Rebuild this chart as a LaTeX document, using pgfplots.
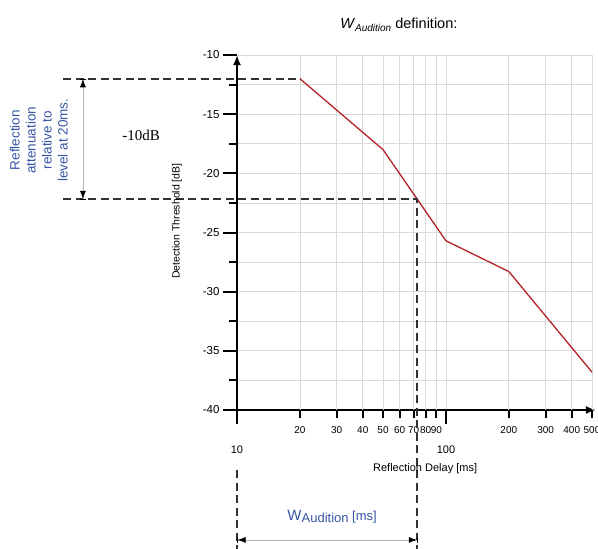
\documentclass[border=0pt]{standalone}
\usepackage{fontspec}
\setmainfont{Liberation Sans}
\newfontfamily\seriffont{Liberation Serif}
\usepackage{pgfplots}
\pgfplotsset{compat=1.18}
\usetikzlibrary{arrows.meta}
\definecolor{curvered}{RGB}{178,34,40}
\definecolor{annblue}{RGB}{55,85,165}
\definecolor{gridgray}{RGB}{218,218,218}
\definecolor{dashgray}{RGB}{50,50,50}

\begin{document}
\begin{tikzpicture}
% picture is 598 x 549 pt, axis box corner at (0,0)
\path[use as bounding box] (-237pt,-139pt) rectangle (361pt,410pt);
\begin{axis}[
  at={(0,0)}, anchor=south west,
  scale only axis, width=355pt, height=355pt,
  xmode=log, xmin=10, xmax=500, ymin=-40, ymax=-10,
  enlargelimits=false, clip=false,
  axis lines=left,
  axis line style={line width=2pt, black},
  x axis line style={-{Latex[length=10pt,width=8pt]}, shorten >=-4pt},
  y axis line style={-{Latex[length=10pt,width=8pt]}},
  tick align=outside,
  major tick length=14pt, minor tick length=8pt,
  every tick/.style={black, line width=2pt},
  xtick={10,100}, xticklabels={10,100},
  minor xtick={},
  xticklabel style={yshift=-18pt, font=\fontsize{11}{11}\selectfont},
  extra x ticks={20,30,40,50,60,70,80,90,200,300,400,500},
  extra x tick labels={20,30,40,50,60,70,80,90,200,300,400,500},
  extra x tick style={major tick length=8pt, grid=major,
    xticklabel style={yshift=13pt, font=\fontsize{10}{10}\selectfont}},
  ytick={-40,-35,-30,-25,-20,-15,-10},
  yticklabels={-40,-35,-30,-25,-20,-15,-10},
  minor ytick={-37.5,-32.5,-27.5,-22.5,-17.5,-12.5},
  yticklabel style={font=\fontsize{11.5}{11.5}\selectfont},
  grid=both,
  major grid style={gridgray, line width=0.7pt},
  minor grid style={gridgray, line width=0.7pt},
  xlabel={Reflection Delay [ms]},
  xlabel style={at={(axis description cs:0.53,-0.166)}, anchor=center, font=\fontsize{11}{11}\selectfont},
  ylabel={Detection Threshold [dB]},
  ylabel style={at={(axis description cs:-0.169,0.532)}, anchor=center, font=\fontsize{10.5}{10.5}\selectfont},
]
\addplot[curvered, line width=1.3pt] coordinates {
  (20,-12) (50,-18) (100,-25.7) (200,-28.3) (500,-36.8)
};

% dashed construction lines
\draw[dashgray, line width=2pt, dash pattern=on 8pt off 4.5pt]
  ({rel axis cs:-0.49,0} |- {axis cs:20,-12}) -- (axis cs:20,-12);
\draw[dashgray, line width=2pt, dash pattern=on 8pt off 4.5pt]
  ({rel axis cs:-0.49,0} |- {axis cs:73,-22.2}) -- (axis cs:73,-22.2)
  -- ({axis cs:73,-22.2} |- {rel axis cs:0,-0.395});
\draw[dashgray, line width=2pt, dash pattern=on 8pt off 4.5pt]
  (rel axis cs:0,-0.17) -- (rel axis cs:0,-0.395);

% dimension arrows
\draw[gray!60, line width=0.6pt, {Bar[black,width=6pt]Latex[black,length=8pt,width=6pt]}-{Latex[black,length=8pt,width=6pt]Bar[black,width=6pt]}]
  ({rel axis cs:-0.434,0} |- {axis cs:20,-12}) -- ({rel axis cs:-0.434,0} |- {axis cs:20,-22.2});
\draw[gray!60, line width=0.6pt, {Bar[black,width=6pt]Latex[black,length=8pt,width=6pt]}-{Latex[black,length=8pt,width=6pt]Bar[black,width=6pt]}]
  ({axis cs:10,-40} |- {rel axis cs:0,-0.366}) -- ({axis cs:73,-40} |- {rel axis cs:0,-0.366});

% texts
\node[font=\fontsize{14.5}{14.5}\selectfont] at (rel axis cs:0.456,1.085)
  {\textit{W}\raisebox{-3pt}{\fontsize{10}{10}\selectfont\textit{Audition}} definition:};
\node[font=\seriffont\fontsize{15}{15}\selectfont] at ({rel axis cs:-0.270,0} |- {axis cs:20,-16.76}) {-10dB};
\node[rotate=90, align=center, text=annblue, font=\fontsize{13.5}{16}\selectfont]
  at ({rel axis cs:-0.558,0} |- {axis cs:20,-17.2})
  {Reflection\\attenuation\\relative to\\level at 20ms.};
\node[text=annblue] at (rel axis cs:0.268,-0.301)
  {{\fontsize{15}{15}\selectfont W}{\fontsize{13}{13}\selectfont\raisebox{-2pt}{Audition} [ms]}};
\end{axis}
\end{tikzpicture}
\end{document}
